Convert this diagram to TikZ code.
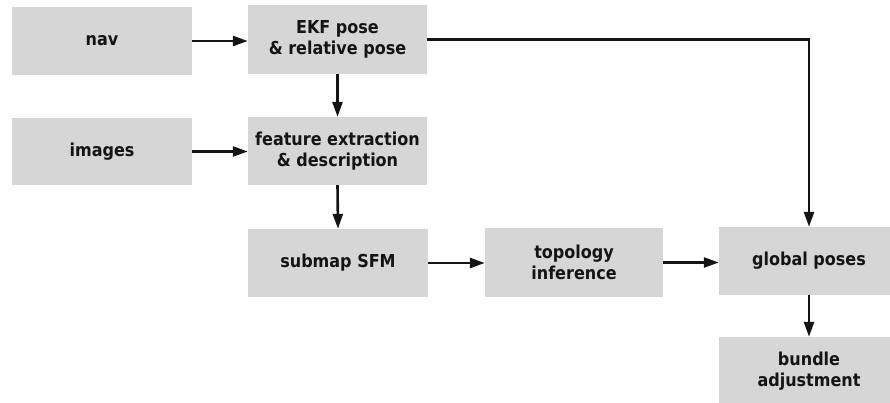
\documentclass[tikz,border=0pt]{standalone}
\usepackage{fontspec}
\setmainfont{DejaVu Sans Condensed}
\usetikzlibrary{arrows.meta}
\definecolor{boxgray}{RGB}{214,214,214}
\definecolor{ink}{RGB}{20,20,20}
\tikzset{
  blk/.style={fill=boxgray, draw=none, minimum width=180pt, minimum height=68pt, inner sep=0pt,
    align=center, font=\bfseries\fontsize{17.8}{21}\selectfont, text=ink},
  arr/.style={line width=2.6pt, draw=ink, -{Triangle[length=15pt,width=10pt]}}
}
\begin{document}
\begin{tikzpicture}[x=1pt,y=-1pt]
\useasboundingbox (0,0) rectangle (890,402);
\begin{scope}
\clip (0,0) rectangle (890,402);
\node[blk] (nav) at (102,41) {nav};
\node[blk, minimum width=179pt, minimum height=69pt] (ekf) at (337.5,39.5) {EKF pose\\\& relative pose};
\node[blk, minimum height=67pt] (img) at (102,151.5) {images};
\node[blk, minimum width=179pt] (feat) at (337.5,151) {feature extraction\\\& description};
\node[blk] (sub) at (338,263) {submap SFM};
\node[blk, minimum width=178pt, minimum height=69pt] (topo) at (574,262.5) {topology\\inference};
\node[blk] (glob) at (809,261) {global poses};
\node[blk] (bund) at (809,371) {bundle\\adjustment};
\end{scope}
\draw[arr] (nav.east) -- (nav.east -| ekf.west);
\draw[arr] (img.east) -- (img.east -| feat.west);
\draw[arr] (ekf.south) -- (feat.north);
\draw[arr] (feat.south) -- (sub.north);
\draw[arr] (sub.east) -- (sub.east -| topo.west);
\draw[arr] (topo.east) -- (topo.east -| glob.west);
\draw[arr] (ekf.east) -| (glob.north);
\draw[arr] (glob.south) -- (bund.north);
\end{tikzpicture}
\end{document}
